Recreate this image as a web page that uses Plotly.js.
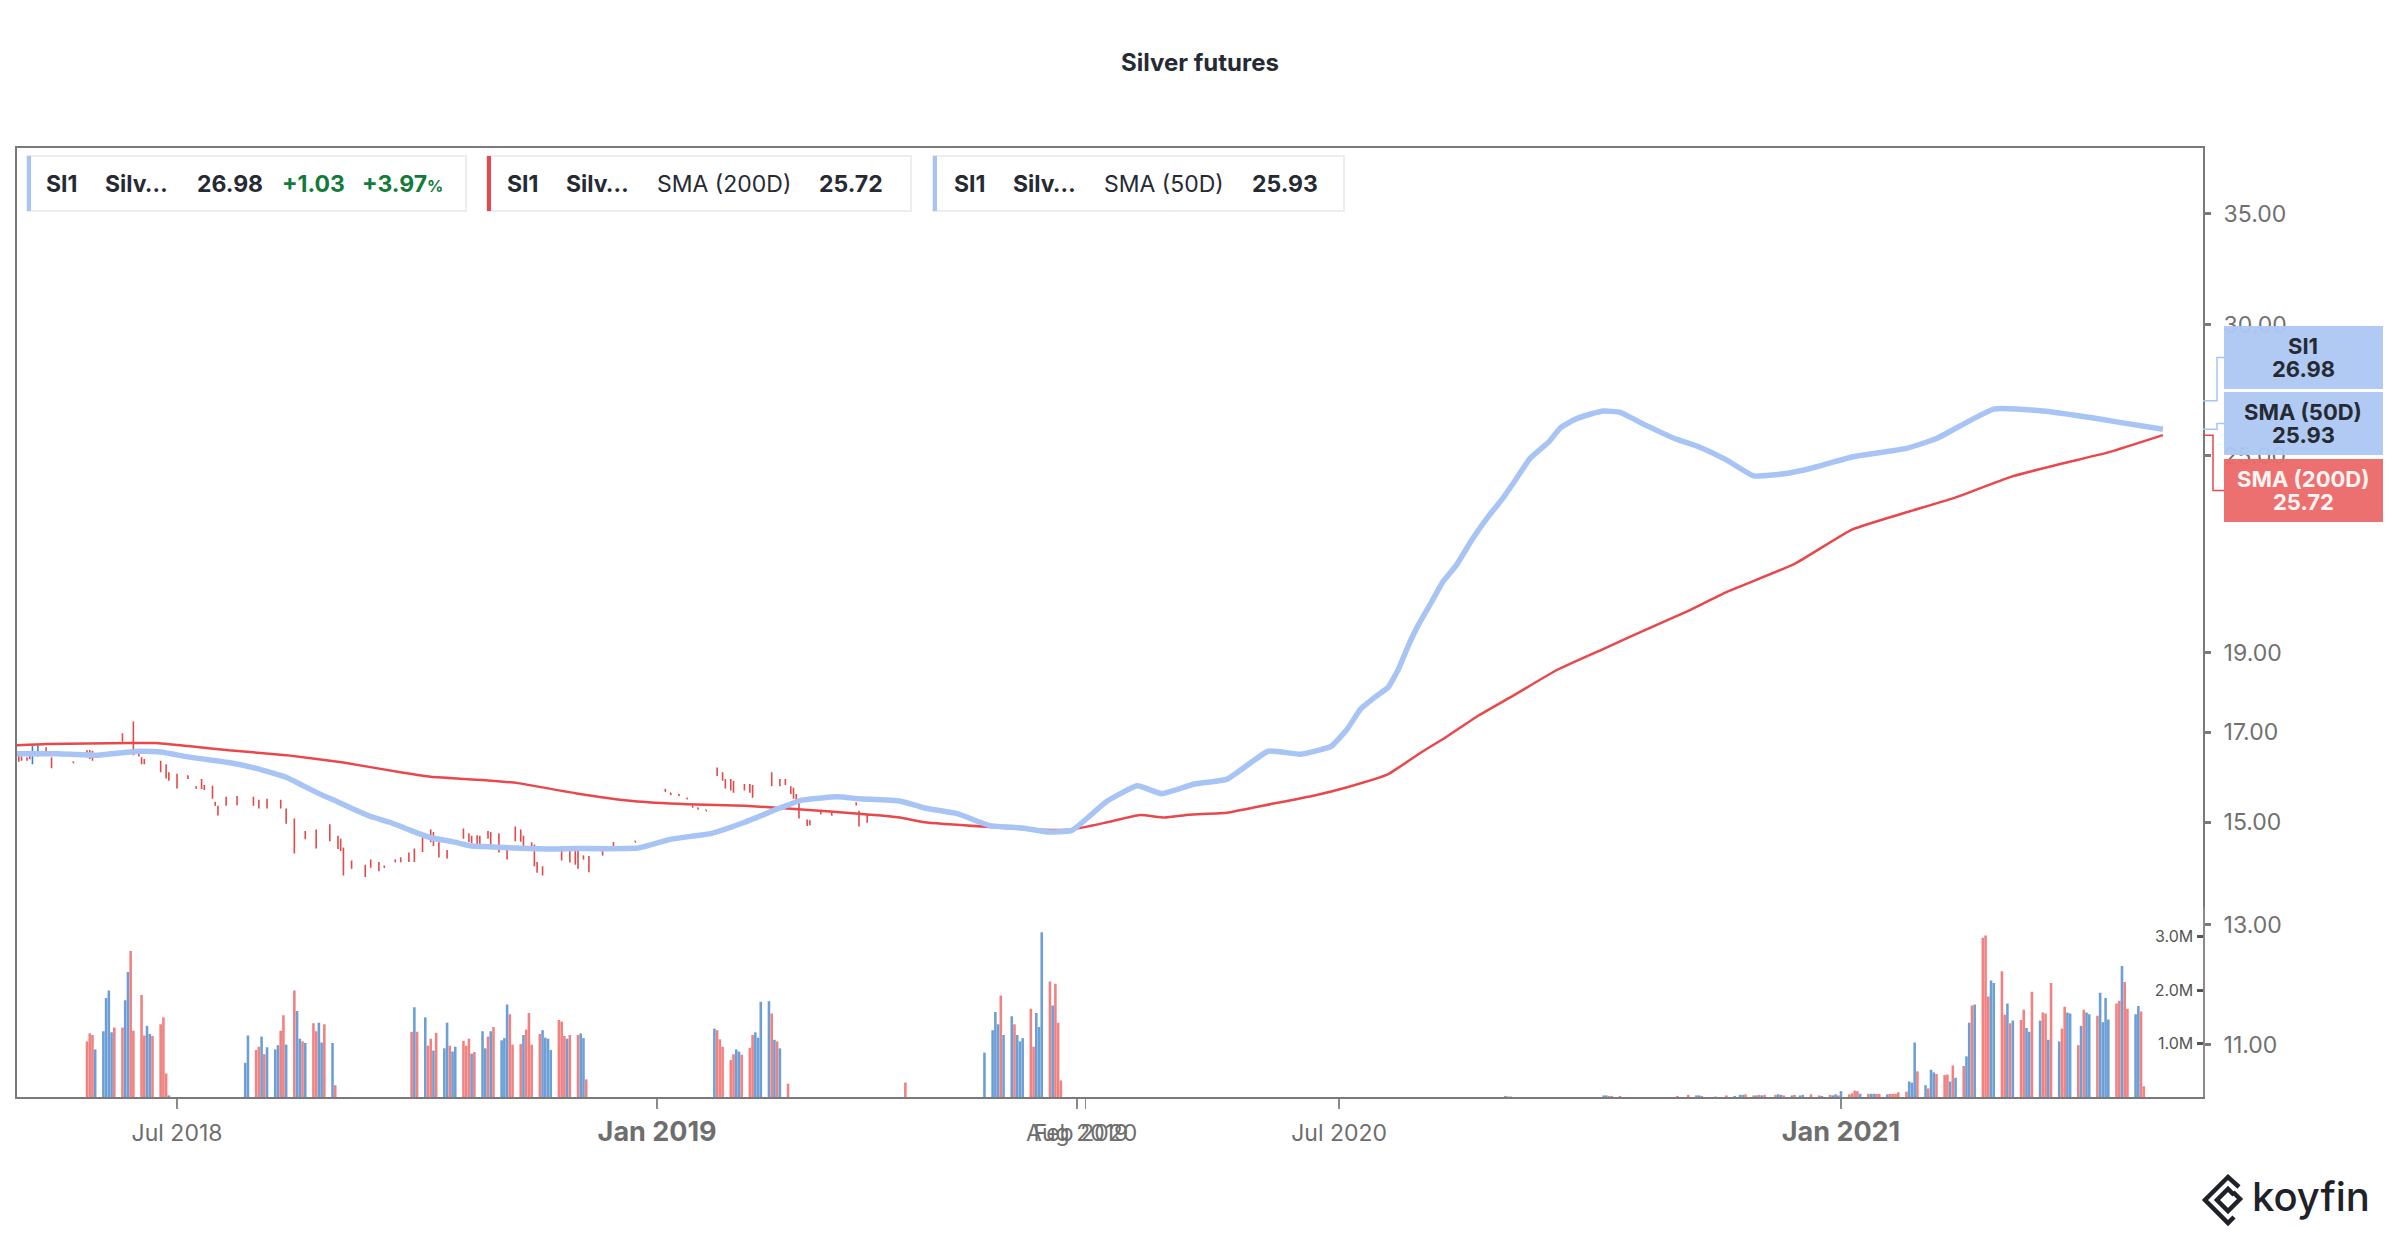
<!DOCTYPE html>
<html>
<head>
<meta charset="utf-8">
<script src="https://cdn.plot.ly/plotly-3.0.1.min.js"></script>
<style>html,body{margin:0;padding:0;background:#fff}#chart{width:2400px;height:1240px}</style>
</head>
<body>
<div id="chart"></div>
<script>
// Silver futures (SI1) – price bars, 50D / 200D moving averages, volume

// ---- data ----
const lastPrice = 26.98, lastChange = 1.03, lastPct = 3.97;

const ohlcDates = ['2018-05-04','2018-05-05','2018-05-07','2018-05-08','2018-05-09','2018-05-11','2018-05-14','2018-05-16','2018-05-24','2018-05-29',
  '2018-05-30','2018-05-31','2018-06-11','2018-06-15','2018-06-17','2018-06-18','2018-06-19','2018-06-25','2018-06-27','2018-06-28',
  '2018-07-01','2018-07-05','2018-07-08','2018-07-10','2018-07-11','2018-07-14','2018-07-15','2018-07-16','2018-07-19','2018-07-23',
  '2018-07-29','2018-07-31','2018-08-03','2018-08-08','2018-08-10','2018-08-13','2018-08-17','2018-08-21','2018-08-26','2018-08-29',
  '2018-08-30','2018-08-31','2018-09-03','2018-09-08','2018-09-10','2018-09-21','2018-09-23','2018-09-27','2018-09-29','2018-10-02',
  '2018-10-04','2018-10-07','2018-10-10','2018-10-11','2018-10-13','2018-10-16','2018-10-22','2018-10-24','2018-10-25','2018-10-27',
  '2018-10-28','2018-10-31','2018-11-01','2018-11-04','2018-11-07','2018-11-10','2018-11-12','2018-11-13','2018-11-16','2018-11-17',
  '2018-11-18','2018-11-20','2018-11-27','2018-11-30','2018-12-02','2018-12-03','2018-12-05','2018-12-07','2018-12-12','2018-12-16',
  '2018-12-24','2019-01-04','2019-01-06','2019-01-09','2019-01-12','2019-01-14','2019-01-16','2019-01-19','2019-01-23','2019-01-25',
  '2019-01-26','2019-01-28','2019-01-29','2019-02-02','2019-02-04','2019-02-05','2019-02-12','2019-02-15','2019-02-17','2019-02-19',
  '2019-02-20','2019-02-21','2019-02-22','2019-02-25','2019-02-26','2019-03-02','2019-03-06','2019-03-15','2019-03-16','2019-03-19'];
const ohlcOpen = [16.44,16.42,16.40,16.45,16.30,16.48,16.63,16.40,16.32,16.55,
  16.56,16.52,16.95,16.95,16.58,16.40,16.36,16.30,16.22,16.05,
  16.00,16.00,15.76,15.90,15.78,15.74,15.42,15.32,15.52,15.53,
  15.51,15.45,15.47,15.45,15.25,14.98,14.79,14.80,14.92,14.69,
  14.62,14.40,14.20,14.10,14.21,14.16,14.11,14.23,14.27,14.35,
  14.42,14.70,14.82,14.76,14.55,14.41,14.84,14.74,14.70,14.70,
  14.69,14.80,14.76,14.72,14.40,14.87,14.82,14.69,14.57,14.48,
  14.16,14.09,14.47,14.47,14.37,14.36,14.31,14.27,14.42,14.58,
  14.61,15.70,15.62,15.59,15.51,15.34,15.30,15.26,16.15,16.05,
  15.90,15.89,15.85,15.80,15.79,15.76,16.04,15.90,15.91,15.74,
  15.70,15.57,15.43,15.04,15.02,15.23,15.19,15.41,15.19,15.12];
const ohlcHigh = [16.46,16.44,16.42,16.46,16.69,16.69,16.65,16.42,16.32,16.58,
  16.59,16.57,16.98,17.26,16.61,16.42,16.38,16.34,16.26,16.08,
  16.05,16.01,15.77,15.93,15.80,15.78,15.43,15.35,15.54,15.56,
  15.54,15.48,15.50,15.48,15.29,15.08,14.82,14.85,14.96,14.72,
  14.66,14.48,14.22,14.14,14.24,14.19,14.12,14.24,14.28,14.38,
  14.46,14.75,14.85,14.80,14.60,14.43,14.87,14.77,14.72,14.73,
  14.72,14.82,14.80,14.77,14.43,14.91,14.85,14.72,14.59,14.54,
  14.19,14.11,14.51,14.51,14.41,14.41,14.32,14.31,14.43,14.59,
  14.61,15.71,15.63,15.60,15.52,15.35,15.31,15.26,16.19,16.08,
  15.93,15.93,15.89,15.82,15.82,15.80,16.08,15.93,15.93,15.77,
  15.74,15.60,15.49,15.06,15.04,15.24,15.20,15.42,15.24,15.15];
const ohlcLow = [16.32,16.34,16.34,16.38,16.26,16.44,16.53,16.17,16.29,16.42,
  16.38,16.34,16.78,16.47,16.44,16.26,16.26,16.08,15.94,15.89,
  15.72,15.93,15.72,15.71,15.69,15.50,15.35,15.14,15.35,15.36,
  15.35,15.29,15.29,15.29,14.97,14.36,14.65,14.46,14.61,14.45,
  14.41,13.93,14.06,13.90,14.08,14.01,14.08,14.19,14.19,14.19,
  14.19,14.39,14.59,14.51,14.28,14.26,14.66,14.59,14.57,14.54,
  14.52,14.66,14.52,14.38,14.24,14.61,14.60,14.48,14.43,14.11,
  13.98,13.93,14.22,14.18,14.14,14.06,14.24,13.99,14.32,14.48,
  14.59,15.65,15.58,15.56,15.49,15.31,15.27,15.24,16.00,15.89,
  15.72,15.68,15.63,15.68,15.63,15.52,15.77,15.77,15.80,15.60,
  15.50,15.42,15.08,14.92,14.94,15.17,15.14,15.36,14.91,14.99];
const ohlcClose = [16.35,16.36,16.36,16.39,16.62,16.66,16.55,16.20,16.30,16.45,
  16.40,16.36,16.80,16.50,16.46,16.28,16.28,16.10,15.97,15.92,
  15.75,15.95,15.73,15.74,15.70,15.53,15.36,15.16,15.37,15.39,
  15.37,15.31,15.31,15.31,15.00,14.40,14.68,14.49,14.64,14.47,
  14.43,13.97,14.08,13.93,14.10,14.03,14.09,14.20,14.20,14.21,
  14.22,14.42,14.61,14.54,14.31,14.28,14.68,14.61,14.59,14.56,
  14.55,14.68,14.55,14.41,14.26,14.64,14.62,14.50,14.45,14.14,
  14.00,13.95,14.24,14.21,14.17,14.09,14.25,14.02,14.33,14.49,
  14.59,15.66,15.59,15.57,15.50,15.32,15.28,15.24,16.03,15.92,
  15.75,15.71,15.66,15.70,15.66,15.55,15.80,15.79,15.82,15.62,
  15.53,15.44,15.12,14.94,14.95,15.18,15.15,15.37,14.94,15.01];

const sma200Dates = ['2018-05-03','2018-05-14','2018-06-14','2018-06-23','2018-07-05','2018-07-20','2018-08-10','2018-08-31','2018-09-30','2018-10-10',
  '2018-10-31','2018-11-11','2018-12-02','2018-12-23','2019-01-12','2019-02-02','2019-02-23','2019-03-16','2019-03-31','2019-04-09',
  '2019-06-30','2019-07-15','2019-07-30','2020-02-09','2020-02-21','2020-03-01','2020-03-10','2020-05-21','2020-06-03','2020-06-22',
  '2020-07-04','2020-07-19','2020-07-31','2020-08-09','2020-08-21','2020-09-03','2020-09-19','2020-10-06','2020-10-24','2020-11-05',
  '2020-11-20','2020-12-15','2021-01-05','2021-01-25','2021-02-11','2021-03-04','2021-03-22','2021-04-09','2021-04-29'];
const sma200Values = [16.70,16.73,16.75,16.75,16.68,16.58,16.47,16.30,16.07,15.98,
  15.90,15.84,15.62,15.45,15.38,15.35,15.27,15.18,15.10,15.00,
  14.90,14.85,14.85,15.00,15.15,15.10,15.16,15.20,15.35,15.57,
  15.75,16.04,16.53,16.88,17.40,17.90,18.55,19.10,19.70,20.10,
  20.67,21.50,22.55,23.10,23.55,24.26,24.70,25.11,25.72];

const sma50Dates = ['2018-05-03','2018-05-18','2018-06-02','2018-06-17','2018-06-25','2018-07-05','2018-07-20','2018-07-30','2018-08-10','2018-08-16',
  '2018-08-22','2018-08-29','2018-09-04','2018-09-10','2018-09-25','2018-09-30','2018-10-04','2018-10-10','2018-10-18','2018-10-25',
  '2018-10-29','2018-11-21','2018-12-02','2018-12-25','2019-01-06','2019-01-21','2019-02-02','2019-02-15','2019-02-23','2019-03-08',
  '2019-03-16','2019-03-31','2019-04-09','2019-06-18','2019-06-30','2019-07-12','2019-07-21','2019-07-30','2020-02-09','2020-02-20',
  '2020-02-29','2020-03-12','2020-05-21','2020-06-05','2020-06-17','2020-06-28','2020-07-04','2020-07-09','2020-07-15','2020-07-19',
  '2020-07-23','2020-07-26','2020-07-30','2020-08-04','2020-08-08','2020-08-13','2020-08-19','2020-08-25','2020-08-30','2020-09-04',
  '2020-09-09','2020-09-16','2020-09-20','2020-09-25','2020-10-01','2020-10-06','2020-10-12','2020-10-21','2020-11-01','2020-11-10',
  '2020-11-20','2020-11-30','2020-12-13','2020-12-21','2021-01-05','2021-01-25','2021-02-05','2021-02-26','2021-03-16','2021-04-03',
  '2021-04-12','2021-04-29'];
const sma50Values = [16.50,16.50,16.47,16.56,16.54,16.43,16.30,16.17,15.97,15.79,
  15.61,15.43,15.27,15.12,15.00,14.89,14.80,14.68,14.60,14.51,
  14.50,14.45,14.46,14.47,14.65,14.77,15.00,15.30,15.47,15.54,
  15.50,15.45,15.30,15.18,14.93,14.88,14.80,14.83,15.45,15.78,
  15.61,15.82,15.93,16.56,16.49,16.67,17.08,17.57,17.90,18.10,
  18.60,19.12,19.74,20.40,20.96,21.46,22.27,23.00,23.55,24.21,
  24.90,25.49,25.97,26.27,26.48,26.60,26.55,26.10,25.60,25.30,
  24.85,24.30,24.40,24.56,24.95,25.25,25.60,26.67,26.60,26.35,
  26.20,25.93];

// volume (millions), runs of consecutive trading days; u = up day, d = down day
const volStarts = ['2018-05-29','2018-07-26','2018-10-03','2019-01-22','2019-04-02','2019-06-28',
  '2020-08-31','2020-10-06','2020-11-02','2021-01-01','2021-01-26'];
const volValues = [
  [1.04,1.19,1.16,0.89,1.23,1.85,1.99,1.21,1.30,1.30,1.81,2.34,2.73,1.24,1.91,1.15,1.33,1.18,1.14,1.36,1.49,0.44,0.03],
  [0.64,1.15,0.88,0.94,1.13,0.80,0.93,0.89,0.97,1.24,1.53,0.98,1.99,1.61,1.09,1.04,1.01,1.38,1.23,1.39,1.02,1.36,1.01,0.22],
  [1.22,1.68,1.22,1.49,0.96,1.09,0.87,1.20,0.91,1.39,0.96,0.85,0.94,1.05,0.96,1.09,0.81,0.84,1.23,0.91,
   1.13,1.23,1.31,1.06,1.10,1.73,1.55,0.98,0.99,1.16,1.26,1.57,0.98,1.18,1.25,1.11,1.09,0.88,1.44,1.41,
   1.14,1.09,1.16,1.16,1.19,1.10,0.33],
  [1.28,1.25,1.08,0.94,0.69,0.80,0.89,0.85,0.79,0.92,1.16,1.21,1.11,1.78,1.79,1.56,1.07,1.04,0.91,0.25],
  [0.27],
  [0.83,1.25,1.59,1.36,1.90,1.16,1.51,1.36,1.16,1.04,1.10,1.65,0.94,1.57,1.31,3.08,2.16,1.71,2.12,1.39,0.31],
  [0.02,0.01,0.01],
  [0.03,0.03,0.02,0.02,0.02],
  [0.02,0,0,0,0.04,0.03,0.03,0.02,0,0,0.01,0,0,0,0.03,0.02,0,0.04,0.04,0.05,
   0.03,0.03,0.04,0.03,0.04,0,0.04,0.05,0.04,0.03,0.03,0.04,0,0.03,0.04,0.05,0,0,0.03,0.02,
   0.04,0.03,0.05,0.03],
  [0.11,0.05,0.07,0.12,0.11,0.06,0.06,0.06,0.06,0.06,0.06,0.05,0.06,0.06,0.06,0.09,0.10],
  [0.29,0.27,1.02,0.48,0.22,0.16,0.51,0.46,0.43,0.41,0.42,0.29,0.59,0.36,0.58,0.76,1.39,1.71,1.73,2.98,
   3.02,1.88,2.18,2.13,2.35,1.54,1.75,1.38,1.43,1.44,1.63,1.29,1.22,1.97,1.43,1.58,1.56,1.07,2.13,1.04,
   1.28,1.69,1.58,1.56,0.97,1.33,1.63,1.58,1.55,1.52,1.95,1.40,1.85,1.45,1.75,1.80,2.45,2.15,1.65,1.55,
   1.70,1.60,0.20]
];
const volDirs = [
  'ddduu uuudd uuddd duudd ddu',
  'uudd uduu uddu duud uddu udud',
  'dudud duduu duudd duduu duduu udddu ddddu uuudd duddu ud',
  'udddd duudd duuuu dudud',
  'd',
  'uuuud uuduu udduu ududd d',
  'udd',
  'uuddd',
  'duuud uudud dudud uduud dudud uduud udduu ddudu duud',
  'udddd uduud duddd dd',
  'uuudu duudd dudud uudud dduud dudud duudu ddudu dduud uduud uuuud duddu udd'
];

const xTickVals = ['2018-07-01','2019-01-01','2019-08-01','2020-02-01','2020-07-01','2021-01-01'];
const xTickText = ['Jul 2018','<b><span style="font-size:27px">Jan 2019</span></b>','Aug 2019','Feb 2020','Jul 2020',
  '<b><span style="font-size:27px">Jan 2021</span></b>'];
const priceTicks = [11, 13, 15, 17, 19, 25, 30, 35];
const volTicks = [1, 2, 3];

// ---- styling / helpers ----
const FONT = 'Inter, Liberation Sans, Arial, sans-serif';
const DARK = '#262a33';
const GREEN = '#127a3a';
const SMA50_COLOR = '#a7c4f5';
const SMA200_COLOR = '#e8484b';
const UP_VOL = '#6c9fd6', DOWN_VOL = '#f08282';

// plot frame in page pixels, used to place the decorations
const L = 17, R = 2203, T = 148, B = 1097;
const px = x => (x - L) / (R - L);
const py = y => (B - y) / (B - T);
const priceRange = [Math.log10(10.23), Math.log10(38.37)];
const pv = v => (Math.log10(v) - priceRange[0]) / (priceRange[1] - priceRange[0]);

function tradingDays(start, n) {
  const out = [];
  const d = new Date(start + 'T00:00:00Z');
  while (out.length < n) {
    const wd = d.getUTCDay();
    if (wd !== 0 && wd !== 6) out.push(d.toISOString().slice(0, 10));
    d.setUTCDate(d.getUTCDate() + 1);
  }
  return out;
}

const volX = [], volY = [], volC = [];
volStarts.forEach((s, i) => {
  const vals = volValues[i];
  const dirs = volDirs[i].replace(/ /g, '');
  tradingDays(s, vals.length).forEach((d, j) => {
    volX.push(d);
    volY.push(vals[j]);
    volC.push(dirs[j] === 'u' ? UP_VOL : DOWN_VOL);
  });
});

// ---- traces ----
const volumeTrace = {
  type: 'bar', x: volX, y: volY, yaxis: 'y2',
  marker: {color: volC, line: {width: 0}},
  hoverinfo: 'skip'
};

const ohlcTrace = {
  type: 'ohlc', x: ohlcDates, open: ohlcOpen, high: ohlcHigh, low: ohlcLow, close: ohlcClose,
  increasing: {line: {color: '#3f7fcf', width: 1.6}},
  decreasing: {line: {color: '#e24a4a', width: 1.6}},
  tickwidth: 0.3,
  hoverinfo: 'skip'
};

const sma200Trace = {
  type: 'scatter', mode: 'lines', x: sma200Dates, y: sma200Values,
  line: {color: SMA200_COLOR, width: 2.5, shape: 'spline', smoothing: 0.4}, hoverinfo: 'skip'
};

const sma50Trace = {
  type: 'scatter', mode: 'lines', x: sma50Dates, y: sma50Values,
  line: {color: SMA50_COLOR, width: 5.5, shape: 'spline', smoothing: 0.4}, hoverinfo: 'skip'
};

// ---- legend boxes (top left) ----
const shapes = [];
const annotations = [];

const legendBoxes = [
  {x0: 27, x1: 466, color: SMA50_COLOR},
  {x0: 487, x1: 911, color: SMA200_COLOR},
  {x0: 933, x1: 1344, color: SMA50_COLOR}
];
legendBoxes.forEach(b => {
  shapes.push({type: 'rect', xref: 'paper', yref: 'paper', x0: px(b.x0), x1: px(b.x1), y0: py(211), y1: py(156),
    fillcolor: '#ffffff', line: {color: '#e6e7ea', width: 1.5}, layer: 'above'});
  shapes.push({type: 'rect', xref: 'paper', yref: 'paper', x0: px(b.x0), x1: px(b.x0 + 4), y0: py(211), y1: py(156),
    fillcolor: b.color, line: {width: 0}, layer: 'above'});
});

const last200 = sma200Values[sma200Values.length - 1].toFixed(2);
const last50 = sma50Values[sma50Values.length - 1].toFixed(2);
const legendPieces = [
  ['<b>SI1</b>', 44], ['<b>Silv…</b>', 103], ['<b>' + lastPrice.toFixed(2) + '</b>', 195],
  ['<b>+' + lastChange.toFixed(2) + '</b>', 280, GREEN],
  ['<b>+' + lastPct.toFixed(2) + '</b><span style="font-size:16px"><b>%</b></span>', 360, GREEN],
  ['<b>SI1</b>', 505], ['<b>Silv…</b>', 564], ['SMA (200D)', 655], ['<b>' + last200 + '</b>', 817],
  ['<b>SI1</b>', 952], ['<b>Silv…</b>', 1011], ['SMA (50D)', 1102], ['<b>' + last50 + '</b>', 1250]
];
legendPieces.forEach(p => {
  annotations.push({xref: 'paper', yref: 'paper', x: px(p[1]), y: py(184), xanchor: 'left', yanchor: 'middle',
    text: p[0], showarrow: false, font: {family: FONT, size: 23, color: p[2] || DARK}});
});

// ---- last value tags (right) ----
const tags = [
  {name: 'SI1', value: lastPrice, top: 326, bg: '#aec8f3', fg: DARK, line: '#a7c4f5', jx: 2217},
  {name: 'SMA (50D)', value: +last50, top: 392, bg: '#aec8f3', fg: DARK, line: '#a7c4f5', jx: 2217},
  {name: 'SMA (200D)', value: +last200, top: 459, bg: '#ec6a6a', fg: '#fff4f4', line: '#e8484b', jx: 2213}
];
tags.forEach(t => {
  const mid = t.top + 31.5;
  shapes.push({type: 'path', xref: 'paper', yref: 'paper',
    path: `M ${px(R)},${pv(t.value)} L ${px(t.jx)},${pv(t.value)} L ${px(t.jx)},${py(mid)} L ${px(2224)},${py(mid)}`,
    line: {color: t.line, width: 1.5}, layer: 'above'});
  shapes.push({type: 'rect', xref: 'paper', yref: 'paper', x0: px(2224), x1: px(2383), y0: py(t.top + 63), y1: py(t.top),
    fillcolor: t.bg, opacity: 0.96, line: {width: 0}, layer: 'above'});
  annotations.push({xref: 'paper', yref: 'paper', x: px(2303.5), y: py(t.top + 20), xanchor: 'center', yanchor: 'middle',
    text: '<b>' + t.name + '</b>', showarrow: false, font: {family: FONT, size: 22, color: t.fg}});
  annotations.push({xref: 'paper', yref: 'paper', x: px(2303.5), y: py(t.top + 43), xanchor: 'center', yanchor: 'middle',
    text: '<b>' + t.value.toFixed(2) + '</b>', showarrow: false, font: {family: FONT, size: 22, color: t.fg}});
});

// ---- koyfin logo ----
const iconPaths = [
  [[2239, 1187], [2228, 1177], [2205, 1200], [2228, 1223], [2234, 1217]],
  [[2234, 1195], [2228, 1189], [2217, 1200], [2228, 1211], [2240, 1199], [2233, 1192]]
];
iconPaths.forEach(pts => {
  shapes.push({type: 'path', xref: 'paper', yref: 'paper',
    path: pts.map((p, i) => (i ? 'L ' : 'M ') + px(p[0]) + ',' + py(p[1])).join(' '),
    line: {color: '#1f2229', width: 4.5}, layer: 'above'});
});
annotations.push({xref: 'paper', yref: 'paper', x: px(2250), y: py(1196), xanchor: 'left', yanchor: 'middle',
  text: 'koyfin', showarrow: false, font: {family: 'Inter, sans-serif', size: 40, color: '#1f2229', weight: 500}});

// ---- layout ----
const layout = {
  width: 2400, height: 1240, autosize: false,
  margin: {l: L, r: 2400 - R, t: T, b: 1240 - B, pad: 0},
  paper_bgcolor: '#ffffff', plot_bgcolor: '#ffffff',
  showlegend: false, hovermode: false, bargap: 0.05,
  title: {text: '<b>Silver futures</b>', x: 0.5, xref: 'container', xanchor: 'center',
    y: 1 - 63 / 1240, yanchor: 'middle', font: {family: 'Inter, sans-serif', size: 24, color: DARK}},
  xaxis: {
    type: 'date',
    range: ['2018-05-03 08:00', '2021-05-13 17:00'],
    rangebreaks: [
      {bounds: ['2018-09-12', '2018-09-20']},
      {bounds: ['2019-04-18', '2019-06-15']},
      {bounds: ['2019-08-03', '2020-01-31']},
      {bounds: ['2020-03-14', '2020-05-11']}
    ],
    tickmode: 'array', tickvals: xTickVals, ticktext: xTickText, tickangle: 0,
    ticks: 'outside', ticklen: 10, tickwidth: 1.5, tickcolor: '#8a8a8a', ticklabelstandoff: 4,
    tickfont: {family: FONT, size: 23, color: '#6e6e6e'},
    showline: true, mirror: true, linecolor: '#7a7a7a', linewidth: 2,
    showgrid: false, zeroline: false,
    rangeslider: {visible: false}, fixedrange: true
  },
  yaxis: {
    type: 'log', side: 'right', anchor: 'x', domain: [0, 1],
    range: priceRange,
    tickmode: 'array', tickvals: priceTicks, ticktext: priceTicks.map(v => v.toFixed(2)),
    ticks: 'outside', ticklen: 6, tickwidth: 3, tickcolor: '#7a7a7a', ticklabelstandoff: 8,
    tickfont: {family: FONT, size: 23, color: '#707070'},
    showline: true, mirror: true, linecolor: '#7a7a7a', linewidth: 2,
    showgrid: false, zeroline: false, fixedrange: true
  },
  yaxis2: {
    domain: [0, 0.2], anchor: 'x', side: 'right',
    range: [0, 3.55],
    tickmode: 'array', tickvals: volTicks, ticktext: volTicks.map(v => v.toFixed(1) + 'M'),
    ticks: 'inside', ticklen: 6, tickwidth: 3, tickcolor: '#555555',
    ticklabelposition: 'inside', ticklabelstandoff: 4,
    tickfont: {family: FONT, size: 16, color: '#555555'},
    showline: true, linecolor: '#8a8a8a', linewidth: 2,
    showgrid: false, zeroline: false, fixedrange: true
  },
  shapes: shapes,
  annotations: annotations
};

Plotly.newPlot('chart', [volumeTrace, ohlcTrace, sma200Trace, sma50Trace], layout,
  {displayModeBar: false, staticPlot: true});
</script>
</body>
</html>
